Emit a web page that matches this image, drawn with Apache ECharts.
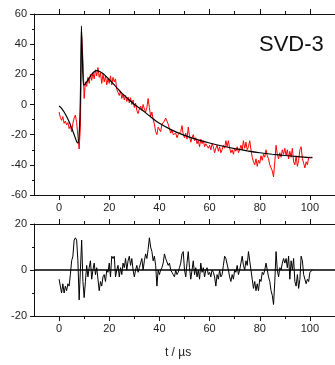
<!DOCTYPE html>
<html>
<head>
<meta charset="utf-8">
<script src="https://cdn.jsdelivr.net/npm/echarts@6/dist/echarts.min.js"></script>
<style>html,body{margin:0;padding:0;background:#fff}#c{width:335px;height:365px}</style>
</head>
<body>
<div id="c"></div>
<script>
// sample times (µs)
const sampleTimes = [
  0,0.5,1,1.5,2,2.5,3,3.5,4,4.5,
  5,5.5,6,6.5,7,7.5,8,8.5,9,9.5,
  10,10.5,11,11.5,12,12.5,13,13.5,14,14.5,
  15,15.5,16,16.5,17,17.5,18,18.5,19,19.5,
  20,20.5,21,21.5,22,22.5,23,23.5,24,24.5,
  25,25.5,26,26.5,27,27.5,28,28.5,29,29.5,
  30,30.5,31,31.5,32,32.5,33,33.5,34,34.5,
  35,35.5,36,36.5,37,37.5,38,38.5,39,39.5,
  40,40.5,41,41.5,42,42.5,43,43.5,44,44.5,
  45,45.5,46,46.5,47,47.5,48,48.5,49,49.5,
  50,50.5,51,51.5,52,52.5,53,53.5,54,54.5,
  55,55.5,56,56.5,57,57.5,58,58.5,59,59.5,
  60,60.5,61,61.5,62,62.5,63,63.5,64,64.5,
  65,65.5,66,66.5,67,67.5,68,68.5,69,69.5,
  70,70.5,71,71.5,72,72.5,73,73.5,74,74.5,
  75,75.5,76,76.5,77,77.5,78,78.5,79,79.5,
  80,80.5,81,81.5,82,82.5,83,83.5,84,84.5,
  85,85.5,86,86.5,87,87.5,88,88.5,89,89.5,
  90,90.5,91,91.5,92,92.5,93,93.5,94,94.5,
  95,95.5,96,96.5,97,97.5,98,98.5,99,99.5,
  100,100.5,101
];
// measured signal (red)
const measured = [
  -5,-8.5,-10.5,-8,-12.5,-11,-13.5,-12,-16,-14,
  -18,-12.5,-9,-7,-12,-21,-29.5,-15,45,30,
  4,15,12,18,14,20,16,21,17,23,
  19,24.5,18,21,14,20,15,19,13,17,
  14,19,13,18,15,17,10,8,6,9,
  4,7,3,6,2,5,1,4.5,0,3,
  -2,1,-4,-6,-3,-1,-4,0,-3,-5,
  -2,4,-2,-8,-5,-10,-13,-18,-20,-15,
  -14,-18,-13,-12,-11,-9,-11,-13,-16,-19,
  -17,-20,-21,-19,-22,-20,-21,-18,-14,-20,
  -22,-19,-23,-15,-21,-25,-22,-20,-24,-22,
  -26,-24,-28,-23,-26,-24,-28,-26,-25,-29,
  -27,-30,-26,-28,-32,-29,-27,-31,-28,-32,
  -30,-27,-29,-24,-28,-24,-29,-32,-30,-33,
  -29,-31,-28,-32,-30,-27,-30,-24,-29,-25,
  -30,-28,-24,-30,-35,-38,-40,-36,-41,-37,
  -39,-34,-37,-33,-35,-30,-34,-36,-40,-42,
  -44,-48,-38,-27,-33,-36,-32,-35,-30,-33,
  -29,-34,-30,-36,-31,-35,-29,-38,-40,-34,
  -41,-37,-30,-28,-36,-39,-42,-38,-40,-35,
  -36,-35,-35
];
// residual (bottom panel)
const residual = [
  -4,-7,-10,-6,-10,-7,-9,-6,-7,-2,
  4,6,13,14,13,4,-13,0,13,-5,
  -12,-5,2,-3,1,4,-4,0,3,-2,
  1,-4,-9,-5,-7,-3,-2,-5,0,-1,
  3,-3,6,5,6,-3,0,2,-3,1,
  -2,3,1,5,0,4,6,2,5,0,
  -3,0,2,-1,1,3,5,0,4,7,
  5,9,14,10,8,4,6,2,-7,0,
  -2,0,1,3,7,5,5,2,3,0,
  -1,-2,-3,0,-2,-1,1,3,7,8,
  0,-3,3,8,1,-4,0,4,-2,1,
  -3,0,-4,3,-1,1,-3,0,1,-2,
  -1,-3,0,-1,-3,-7,-2,-4,0,-3,
  -2,2,6,5,5,0,-3,-5,-2,-4,
  0,-1,2,-2,0,3,6,2,0,4,
  2,8,4,0,-4,-8,-5,-9,-6,-9,
  -4,-5,-1,-2,0,3,0,-3,-5,-9,
  -11,-15,-5,8,0,-3,1,0,3,5,
  3,5,1,6,-4,4,0,5,-5,-7,
  -2,-8,-4,6,4,-2,-4,-6,-4,-5,
  -1,-1,0
];
// SVD-3 fit (black)
const fitTimes = [0,1,2,3,4,5,6,7,7.5,8,8.5,8.9,9.3,9.7,10,11,12,13,14,15,16,17,18,20,22,25,28,30,33,36,40,45,50,55,60,65,70,75,80,85,90,95,100,101];
const fitValues = [-1,-2.5,-5,-8,-11.5,-15.5,-20,-24.5,-25.5,-20,5,52,30,13,13,15,17.5,20,21.7,22.4,22,21,19.8,16.5,13,7.5,3,0,-3.5,-7.5,-12.5,-17,-20.5,-23.3,-25.5,-27.5,-29.2,-30.7,-32,-33,-33.8,-34.5,-35.2,-35.3];

const xMajorTicks = [0,20,40,60,80,100];
const xMinorTicks = [10,30,50,70,90];
const xRange = [-10,110];
const topYRange = [-60,60];
const bottomYRange = [-20,20];
const panelLabel = 'SVD-3';
const xTitle = 't / \u00b5s';

const FONT = 'Liberation Sans, Arial, sans-serif';
const INK = '#111';

function xAx(grid, pos, major, labels) {
  return {
    type: 'value', gridIndex: grid, position: pos,
    min: xRange[0], max: xRange[1],
    axisLine: { show: major, onZero: false, lineStyle: { color: INK, width: 1 } },
    axisTick: { show: true, inside: false, length: major ? 5 : 3, customValues: major ? xMajorTicks : xMinorTicks, lineStyle: { color: INK, width: 1 } },
    axisLabel: { show: labels, customValues: xMajorTicks, margin: 7, color: '#222', fontSize: 11, fontFamily: FONT },
    splitLine: { show: false }
  };
}
function yAx(grid, range) {
  return {
    type: 'value', gridIndex: grid, min: range[0], max: range[1], interval: 20,
    axisLine: { show: true, onZero: false, lineStyle: { color: INK, width: 1 } },
    axisTick: { show: true, inside: false, length: 4, lineStyle: { color: INK } },
    minorTick: { show: true, splitNumber: 2, length: 2, lineStyle: { color: INK } },
    axisLabel: { margin: 7, color: '#222', fontSize: 11, fontFamily: FONT },
    splitLine: { show: false }, minorSplitLine: { show: false }
  };
}

const chart = echarts.init(document.getElementById('c'), null, { renderer: 'canvas' });
chart.setOption({
  animation: false,
  backgroundColor: '#fff',
  grid: [
    { left: 34, right: -1, top: 14, bottom: 170, containLabel: false },
    { left: 34, right: -1, top: 224, bottom: 49, containLabel: false }
  ],
  xAxis: [
    xAx(0, 'bottom', true, true),
    xAx(0, 'bottom', false, false),
    xAx(0, 'top', true, false),
    xAx(0, 'top', false, false),
    xAx(1, 'bottom', true, true),
    xAx(1, 'bottom', false, false),
    xAx(1, 'top', true, false),
    xAx(1, 'top', false, false)
  ],
  yAxis: [ yAx(0, topYRange), yAx(1, bottomYRange) ],
  series: [
    {
      type: 'line', xAxisIndex: 0, yAxisIndex: 0, showSymbol: false, symbol: 'none',
      data: sampleTimes.map((t, i) => [t, measured[i]]),
      lineStyle: { color: '#ff0000', width: 1 }, z: 2
    },
    {
      type: 'line', xAxisIndex: 0, yAxisIndex: 0, showSymbol: false, symbol: 'none',
      data: fitTimes.map((t, i) => [t, fitValues[i]]),
      smooth: 0.25,
      lineStyle: { color: '#000', width: 1.2 }, z: 3
    },
    {
      type: 'line', xAxisIndex: 4, yAxisIndex: 1, showSymbol: false, symbol: 'none',
      data: sampleTimes.map((t, i) => [t, residual[i]]),
      lineStyle: { color: '#000', width: 1 }, z: 2,
      markLine: {
        silent: true, symbol: ['none', 'none'], label: { show: false },
        lineStyle: { color: '#000', width: 1.6, type: 'solid' },
        data: [{ yAxis: 0 }]
      }
    }
  ],
  graphic: [
    { type: 'text', style: { text: panelLabel, x: 259, y: 45, font: '22px ' + FONT, fill: '#111', textVerticalAlign: 'middle' } },
    { type: 'text', style: { text: xTitle, x: 178, y: 353, font: '12px ' + FONT, fill: '#222', textAlign: 'center', textVerticalAlign: 'middle' } }
  ]
});
</script>
</body>
</html>
